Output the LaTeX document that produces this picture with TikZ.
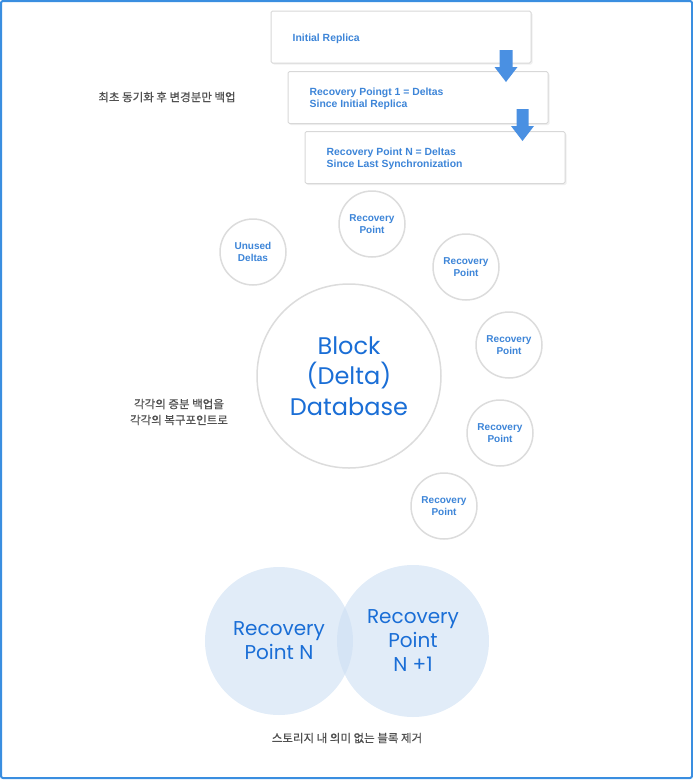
\documentclass[tikz,border=0pt]{standalone}
\usepackage{fontspec}
\setmainfont{Liberation Sans}
\newfontfamily\kr{Noto Sans CJK KR}[FakeBold=0.6]
\newfontfamily\geo{Poppins}
\usetikzlibrary{shadows,calc}
\definecolor{frameblue}{HTML}{3A8EE0}
\definecolor{txtblue}{HTML}{3D85D8}
\definecolor{bigblue}{HTML}{1A6ED6}
\definecolor{arrblue}{HTML}{4A90E2}
\definecolor{ring}{HTML}{DCDCDC}
\definecolor{boxline}{HTML}{D8D8D8}
\definecolor{krgray}{HTML}{505050}
\definecolor{venn}{RGB}{205,223,243}
\tikzset{
  stepbox/.style={draw=boxline, line width=1pt, fill=white, rounded corners=1.5pt,
    minimum width=260pt, minimum height=52pt, inner sep=0pt,
    drop shadow={opacity=0.12, shadow xshift=1.5pt, shadow yshift=-1.5pt}},
  steptext/.style={anchor=west, inner sep=0pt, align=left,
    font=\bfseries\fontsize{10.4}{12}\selectfont, text=txtblue},
  smallc/.style={circle, draw=ring, line width=1.5pt, fill=white, minimum size=66pt,
    inner sep=0pt, align=center, font=\bfseries\fontsize{10}{12}\selectfont, text=txtblue},
  bigc/.style={circle, draw=ring, line width=1.5pt, fill=white, minimum size=184pt,
    inner sep=0pt, align=center, font=\geo\fontsize{24}{30.5}\selectfont, text=bigblue},
  vennc/.style={circle, fill=venn, fill opacity=0.6, text opacity=1, inner sep=0pt,
    align=center, font=\geo\fontsize{20}{24}\selectfont, text=bigblue},
  krlabel/.style={font=\kr\fontsize{11.5}{16}\selectfont, text=krgray, align=center},
  downarrow/.style={fill=arrblue}
}
\begin{document}
\begin{tikzpicture}[x=1pt,y=-1pt]
\useasboundingbox (0,0) rectangle (693,780);
\draw[frameblue, line width=2pt, rounded corners=2pt] (1,1) rectangle (692,778);

% boxes
\node[stepbox] (b1) at (401,37) {};
\node[stepbox] (b2) at (418,97.5) {};
\node[stepbox] (b3) at (435,157.5) {};
\node[steptext] (t1) at ($(b1.west)+(22,1.5)$) {Initial Replica};
\node[steptext] (t2) at ($(b2.west)+(22,1.5)$) {Recovery Poingt 1 = Deltas\\Since Initial Replica};
\node[steptext] (t3) at ($(b3.west)+(22,1.5)$) {Recovery Point N = Deltas\\Since Last Synchronization};

% arrows
\coordinate (a1) at (506,50);
\coordinate (a2) at (522.5,109);
\fill[downarrow] ($(a1)+(-6.5,0)$) -- ++(13,0) -- ++(0,17) -- ++(5,0) -- ++(-11.5,15) -- ++(-11.5,-15) -- ++(5,0) -- cycle;
\fill[downarrow] ($(a2)+(-6,0)$) -- ++(12,0) -- ++(0,17) -- ++(5.5,0) -- ++(-11.5,15) -- ++(-11.5,-15) -- ++(5.5,0) -- cycle;

\node[krlabel] (k1) at (167,97) {최초 동기화 후 변경분만 백업};

% circles
\node[bigc] (db) at (349,376) {Block\\(Delta)\\Database};
\node[smallc] (ud) at (253,252) {Unused\\Deltas};
\node[smallc] (r1) at (372,224) {Recovery\\Point};
\node[smallc] (r2) at (466,267) {Recovery\\Point};
\node[smallc] (r3) at (509,345) {Recovery\\Point};
\node[smallc] (r4) at (500,433) {Recovery\\Point};
\node[smallc] (r5) at (444,506) {Recovery\\Point};

\node[krlabel] (k2) at (179,412) {각각의 증분 백업을\\각각의 복구포인트로};

% venn
\node[vennc, minimum size=148pt] (vn) at (279,641) {Recovery\\Point N};
\node[vennc, minimum size=152pt] (vn1) at (413,641) {Recovery\\Point\\N +1};

\node[krlabel] (k3) at (347,738) {스토리지 내 의미 없는 블록 제거};
\end{tikzpicture}
\end{document}
